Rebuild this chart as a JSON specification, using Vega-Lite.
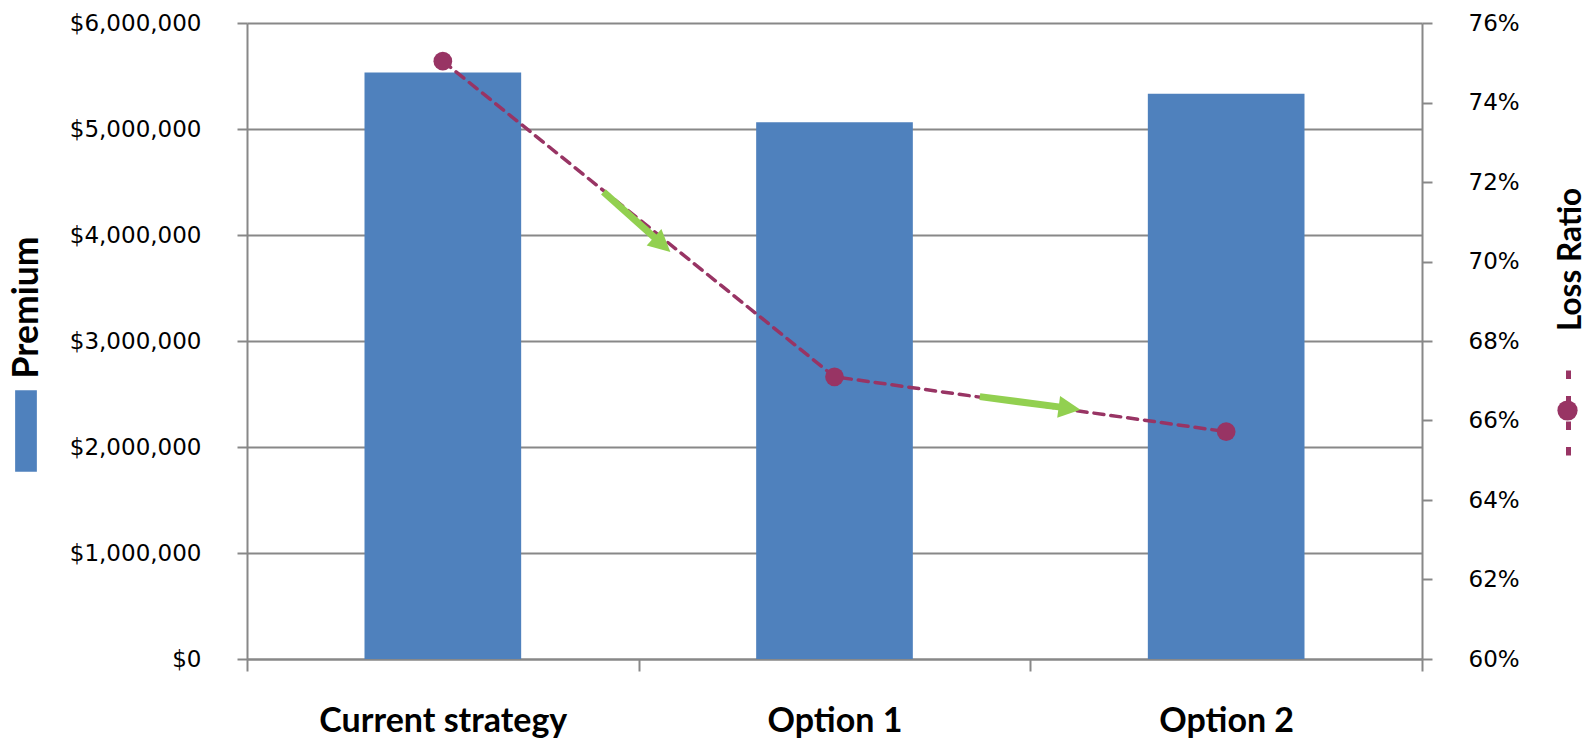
{
  "$schema": "https://vega.github.io/schema/vega-lite/v6.json",
  "autosize": {"type": "none"},
  "width": 1175,
  "height": 636,
  "padding": {"left": 247, "top": 23, "right": 173, "bottom": 79},
  "background": "#ffffff",
  "datasets": {
    "options": [
      {"option": "Current strategy", "premium": 5533000, "loss_ratio": 0.7504},
      {"option": "Option 1", "premium": 5063000, "loss_ratio": 0.6710},
      {"option": "Option 2", "premium": 5332000, "loss_ratio": 0.6572}
    ],
    "arrows": [
      {"arrow": 1, "pos_start": 0.910, "lr_start": 0.7175, "pos_end": 1.0466, "lr_end": 0.7055, "pos_tip": 1.081, "lr_tip": 0.7024},
      {"arrow": 2, "pos_start": 1.871, "lr_start": 0.6660, "pos_end": 2.082, "lr_end": 0.6633, "pos_tip": 2.128, "lr_tip": 0.6627}
    ]
  },
  "layer": [
    {
      "data": {"name": "options"},
      "mark": {"type": "bar", "width": {"band": 0.4}},
      "encoding": {
        "x": {
          "field": "option", "type": "nominal", "sort": null,
          "scale": {"type": "band", "paddingInner": 0, "paddingOuter": 0},
          "axis": {
            "orient": "bottom", "title": null, "labelAngle": 0, "labelLimit": 0,
            "tickBand": "extent", "tickSize": 12, "grid": false,
            "labelFont": "Lato", "labelFontWeight": "bold", "labelFontSize": 34,
            "labelBaseline": "alphabetic", "labelPadding": 60
          }
        },
        "y": {
          "field": "premium", "type": "quantitative",
          "scale": {"domain": [0, 6000000], "nice": false, "zero": true},
          "axis": {
            "orient": "left", "values": [0, 1000000, 2000000, 3000000, 4000000, 5000000, 6000000],
            "format": "$,.0f", "grid": true, "tickSize": 10, "labelPadding": 36,
            "title": "Premium", "titleAngle": 270, "titleX": -221, "titleY": 284,
            "titleFontSize": 35.5,
            "titleAlign": "center", "titleBaseline": "middle"
          }
        },
        "fill": {
          "datum": "Premium",
          "scale": {"range": ["#4F81BD"]},
          "legend": {
            "orient": "none", "legendX": -262, "legendY": 367, "title": null, "padding": 0,
            "symbolType": "M-0.266,-1H0.266V1H-0.266Z", "symbolSize": 6675,
            "symbolStrokeWidth": 0, "labelExpr": "''"
          }
        }
      }
    },
    {
      "data": {"name": "options"},
      "mark": {"type": "line", "strokeWidth": 3.5, "strokeDash": [10, 7], "strokeCap": "round"},
      "encoding": {
        "x": {
          "field": "option", "type": "nominal", "sort": null,
          "scale": {"type": "band", "paddingInner": 0, "paddingOuter": 0},
          "axis": null
        },
        "y": {
          "field": "loss_ratio", "type": "quantitative",
          "scale": {"domain": [0.60, 0.76], "nice": false, "zero": false},
          "axis": {
            "orient": "right", "values": [0.60, 0.62, 0.64, 0.66, 0.68, 0.70, 0.72, 0.74, 0.76],
            "format": ".0%", "grid": false, "tickSize": 10, "labelPadding": 36,
            "title": "Loss Ratio", "titleAngle": 270, "titleX": 149, "titleY": 236,
            "titleFontSize": 31.5,
            "titleAlign": "center", "titleBaseline": "middle"
          }
        },
        "stroke": {
          "datum": "Loss Ratio line",
          "scale": {"range": ["#983464"]},
          "legend": {
            "orient": "none", "legendX": 1276, "legendY": 345, "title": null, "padding": 0,
            "symbolType": "M0,-1V1", "symbolSize": 7396, "symbolStrokeWidth": 5,
            "symbolDash": [8.5, 17], "labelExpr": "''"
          }
        }
      }
    },
    {
      "data": {"name": "options"},
      "mark": {"type": "point", "filled": true, "opacity": 1, "size": 350},
      "encoding": {
        "x": {
          "field": "option", "type": "nominal", "sort": null,
          "scale": {"type": "band", "paddingInner": 0, "paddingOuter": 0},
          "axis": null
        },
        "y": {
          "field": "loss_ratio", "type": "quantitative",
          "scale": {"domain": [0.60, 0.76], "nice": false, "zero": false},
          "axis": null
        },
        "color": {
          "datum": "Loss Ratio marker",
          "scale": {"range": ["#983464"]},
          "legend": {
            "orient": "none", "legendX": 1310, "legendY": 377, "title": null, "padding": 0,
            "symbolType": "circle", "symbolSize": 410, "symbolOpacity": 1,
            "symbolStrokeWidth": 0, "labelExpr": "''"
          }
        }
      }
    },
    {
      "data": {"name": "arrows"},
      "mark": {"type": "rule", "color": "#92D050", "strokeWidth": 7, "strokeCap": "butt"},
      "encoding": {
        "x": {"field": "pos_start", "type": "quantitative", "scale": {"domain": [0, 3], "nice": false, "zero": false}, "axis": null},
        "x2": {"field": "pos_end"},
        "y": {"field": "lr_start", "type": "quantitative", "scale": {"domain": [0.60, 0.76], "nice": false, "zero": false}, "axis": null},
        "y2": {"field": "lr_end"}
      }
    },
    {
      "data": {"name": "arrows"},
      "transform": [{"filter": "datum.arrow === 1"}],
      "mark": {"type": "point", "shape": "M0,0L-1,-0.5L-1,0.5Z", "filled": true, "opacity": 1, "color": "#92D050", "size": 1936, "angle": 42},
      "encoding": {
        "x": {"field": "pos_tip", "type": "quantitative", "scale": {"domain": [0, 3], "nice": false, "zero": false}, "axis": null},
        "y": {"field": "lr_tip", "type": "quantitative", "scale": {"domain": [0.60, 0.76], "nice": false, "zero": false}, "axis": null}
      }
    },
    {
      "data": {"name": "arrows"},
      "transform": [{"filter": "datum.arrow === 2"}],
      "mark": {"type": "point", "shape": "M0,0L-1,-0.5L-1,0.5Z", "filled": true, "opacity": 1, "color": "#92D050", "size": 1936, "angle": 7.5},
      "encoding": {
        "x": {"field": "pos_tip", "type": "quantitative", "scale": {"domain": [0, 3], "nice": false, "zero": false}, "axis": null},
        "y": {"field": "lr_tip", "type": "quantitative", "scale": {"domain": [0.60, 0.76], "nice": false, "zero": false}, "axis": null}
      }
    }
  ],
  "resolve": {"scale": {"x": "independent", "y": "independent"}},
  "config": {
    "view": {"stroke": null},
    "axis": {
      "domainColor": "#888888", "domainWidth": 2,
      "tickColor": "#888888", "tickWidth": 2,
      "gridColor": "#888888", "gridWidth": 2,
      "labelFont": "DejaVu Sans", "labelFontSize": 23, "labelColor": "#000000",
      "titleFont": "Lato", "titleFontSize": 32, "titleFontWeight": "bold", "titleColor": "#000000"
    }
  }
}
